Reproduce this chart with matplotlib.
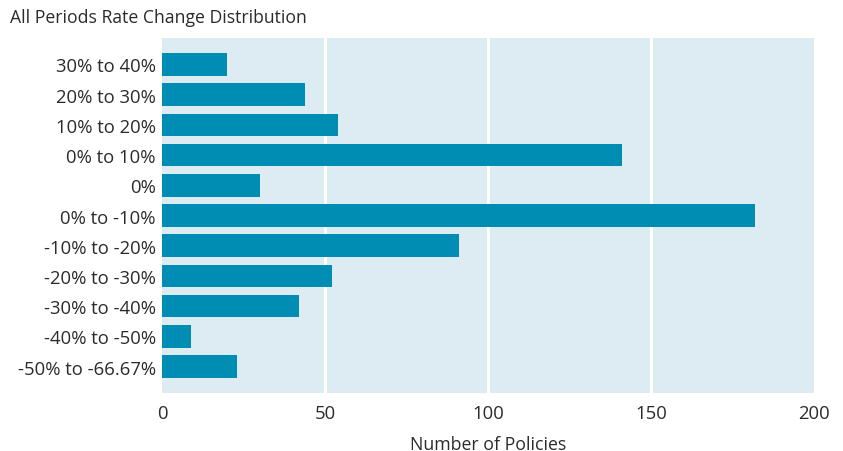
import numpy as np
import matplotlib.pyplot as plt

# rate change buckets, top to bottom as drawn
buckets = ["30% to 40%", "20% to 30%", "10% to 20%", "0% to 10%", "0%",
           "0% to -10%", "-10% to -20%", "-20% to -30%", "-30% to -40%",
           "-40% to -50%", "-50% to -66.67%"]
policies = [20, 44, 54, 141, 30, 182, 91, 52, 42, 9, 23]
xticks = [0, 50, 100, 150, 200]

barColor = "#008db3"
bgColor = "#ddebf2"
textColor = "#2b2b2b"

plt.rcParams['font.family'] = ['Open Sans', 'DejaVu Sans']

fig = plt.figure(figsize=(8.43, 4.52), dpi=100)
ax = fig.add_axes([0.1922, 0.1283, 0.7734, 0.7854])
ax.set_facecolor(bgColor)

ypos = np.arange(len(buckets))
ax.barh(ypos, policies, height=0.75, color=barColor, zorder=3)

ax.set_ylim(len(buckets) - 1 + 0.877, -0.877)
ax.set_xlim(0, 200)
ax.set_yticks(ypos)
ax.set_yticklabels(buckets, fontsize=13.3, color=textColor)
ax.set_xticks(xticks)
ax.set_xticklabels([str(t) for t in xticks], fontsize=13.3, color=textColor)
ax.tick_params(length=0, pad=4.5)
ax.tick_params(axis='x', pad=8)

for v in xticks[1:-1]:
    ax.axvline(v, color="white", lw=2.2, zorder=2)

for s in ax.spines.values():
    s.set_visible(False)

ax.set_xlabel("Number of Policies", fontsize=12.8, color=textColor, labelpad=9)
fig.text(10 / 843, 1 - 18 / 452, "All Periods Rate Change Distribution",
         fontsize=12.7, color=textColor, va='center', ha='left')

fig.savefig("out.png", dpi=100)
